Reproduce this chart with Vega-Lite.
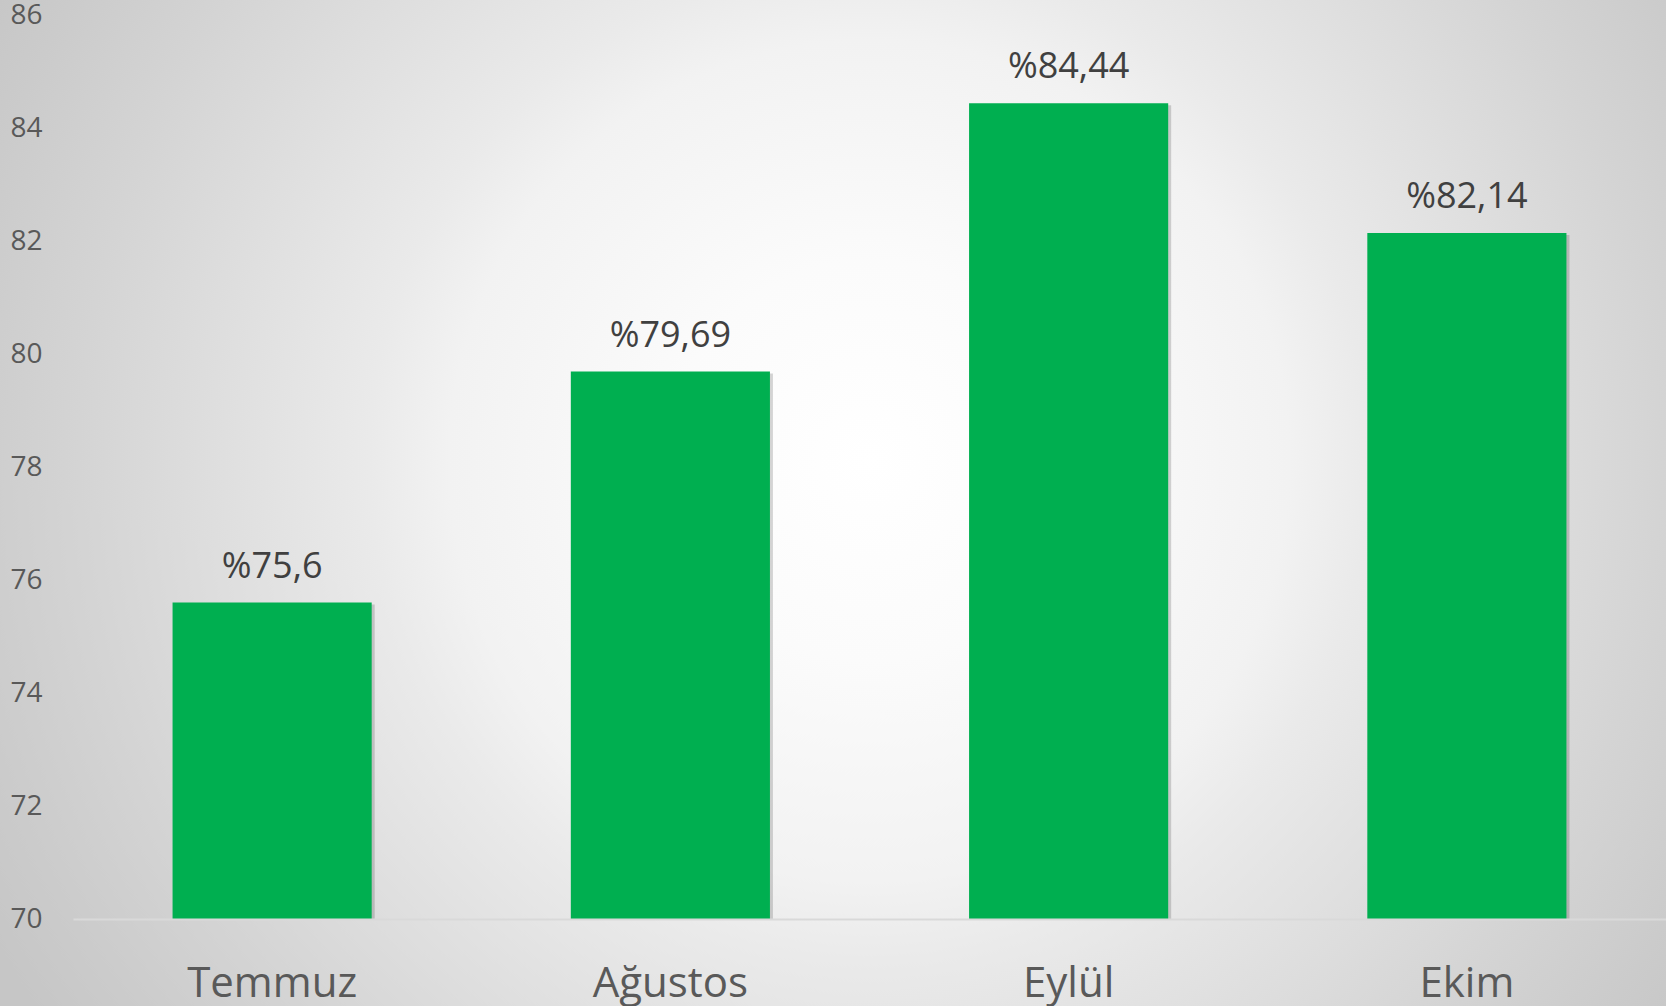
{
  "$schema": "https://vega.github.io/schema/vega-lite/v6.json",
  "width": 1593,
  "height": 904,
  "autosize": "none",
  "padding": {"left": 73, "top": 15, "right": 0, "bottom": 87},
  "background": "#cdcdcd",
  "config": {
    "view": {"stroke": null},
    "font": "Open Sans"
  },
  "data": {
    "values": [
      {"ay": "Temmuz", "deger": 75.6, "etiket": "%75,6"},
      {"ay": "Ağustos", "deger": 79.69, "etiket": "%79,69"},
      {"ay": "Eylül", "deger": 84.44, "etiket": "%84,44"},
      {"ay": "Ekim", "deger": 82.14, "etiket": "%82,14"}
    ]
  },
  "encoding": {
    "x": {
      "field": "ay",
      "type": "nominal",
      "sort": null,
      "scale": {"domain": ["Temmuz", "Ağustos", "Eylül", "Ekim"], "paddingInner": 0.5, "paddingOuter": 0.25},
      "axis": {
        "title": null,
        "zindex": 1,
        "labelAngle": 0,
        "labelFontSize": 42,
        "labelColor": "#595959",
        "labelBaseline": "alphabetic",
        "labelPadding": 77,
        "ticks": false,
        "domainColor": "#d9d9d9",
        "domainWidth": 2
      }
    }
  },
  "layer": [
    {
      "data": {"values": [{}]},
      "mark": {
        "type": "rect",
        "clip": false,
        "fill": {
          "gradient": "radial",
          "x1": 0.522, "y1": 0.474, "x2": 0.522, "y2": 0.474,
          "r1": 0, "r2": 0.6,
          "stops": [
            {"offset": 0, "color": "#ffffff"},
            {"offset": 0.2, "color": "#fbfbfb"},
            {"offset": 0.42, "color": "#f2f2f2"},
            {"offset": 0.5, "color": "#eaeaea"},
            {"offset": 0.79, "color": "#d4d4d4"},
            {"offset": 0.92, "color": "#cbcbcb"},
            {"offset": 1, "color": "#c6c6c6"}
          ]
        }
      },
      "encoding": {
        "x": {"datum": "Temmuz", "type": "nominal", "bandPosition": -0.87},
        "x2": {"datum": "Ekim", "bandPosition": 1.5},
        "y": {"datum": 86.3, "type": "quantitative"},
        "y2": {"datum": 68.4}
      }
    },
    {
      "mark": {"type": "bar", "color": "#000000", "opacity": 0.16, "xOffset": 3, "yOffset": 2},
      "encoding": {
        "y": {"field": "deger", "type": "quantitative"},
        "y2": {"datum": 70}
      }
    },
    {
      "mark": {"type": "bar", "color": "#00af50"},
      "encoding": {
        "y": {
          "field": "deger",
          "type": "quantitative",
          "scale": {"domain": [70, 86], "nice": false, "zero": false},
          "axis": {
            "title": null,
            "zindex": 1,
            "values": [70, 72, 74, 76, 78, 80, 82, 84, 86],
            "format": "d",
            "labelFontSize": 28,
            "labelColor": "#595959",
            "labelPadding": 31,
            "ticks": false,
            "domain": false,
            "grid": false
          }
        },
        "y2": {"datum": 70}
      }
    },
    {
      "mark": {"type": "text", "fontSize": 36, "color": "#404040", "baseline": "alphabetic", "dy": -25},
      "encoding": {
        "y": {"field": "deger", "type": "quantitative"},
        "text": {"field": "etiket"}
      }
    }
  ]
}
